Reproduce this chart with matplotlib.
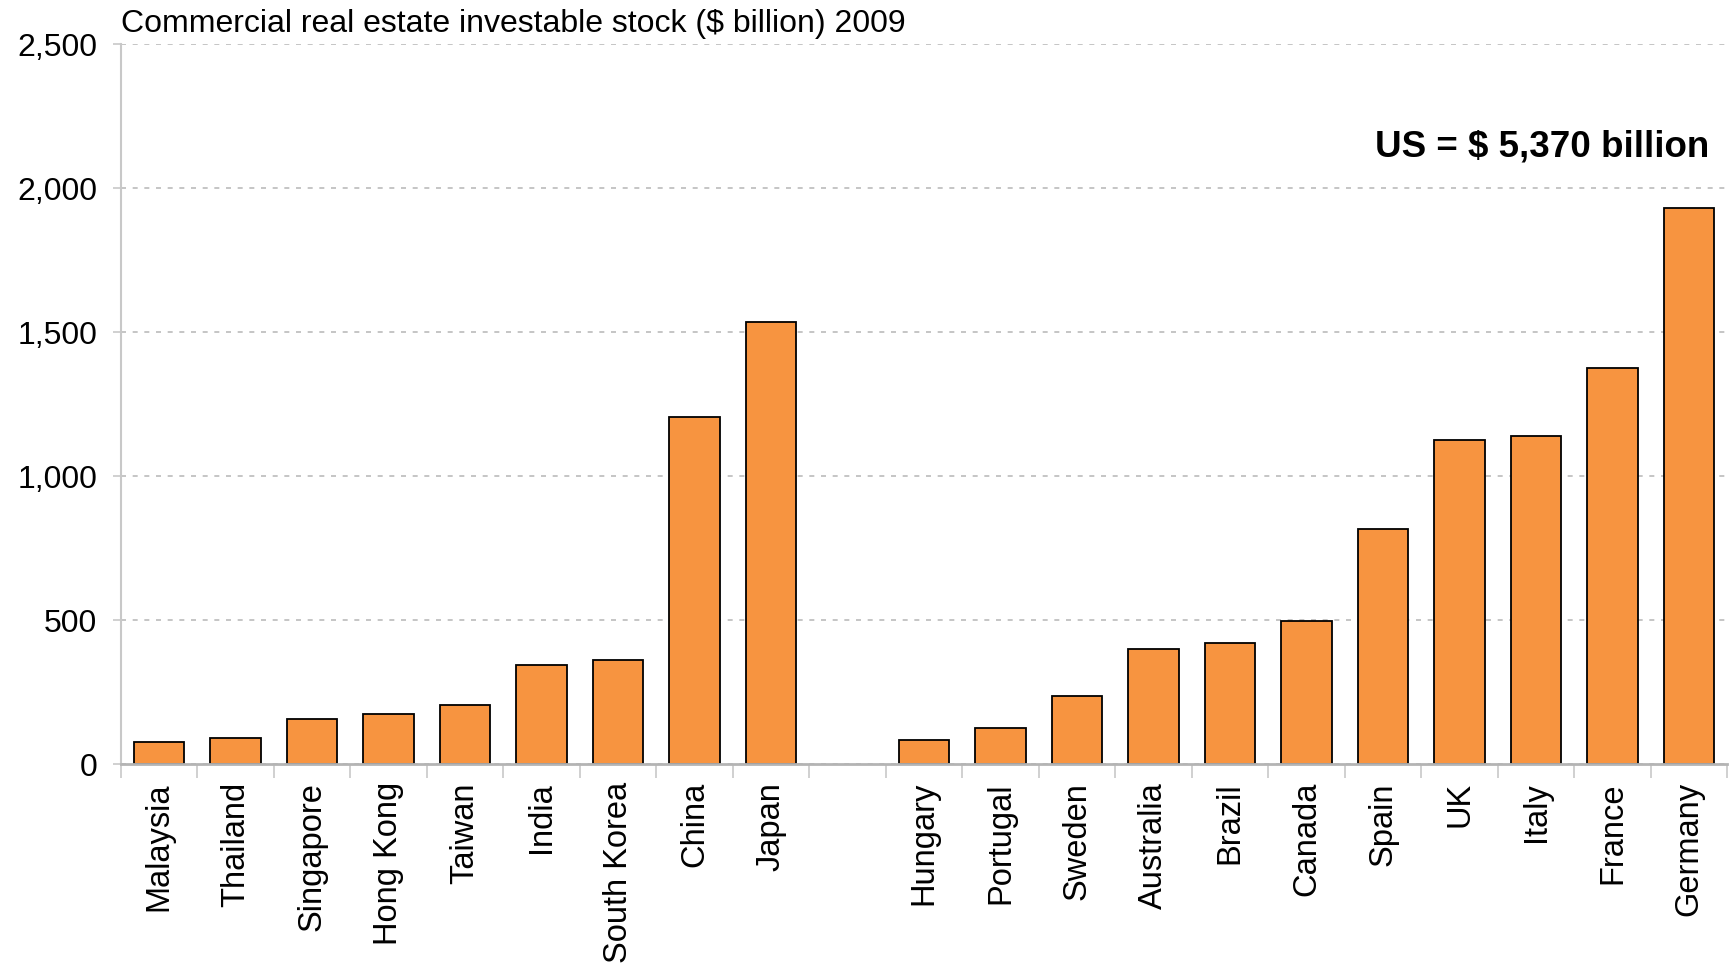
import matplotlib
matplotlib.use("Agg")
import matplotlib.pyplot as plt
import numpy as np

plt.rcParams['font.family'] = ['Liberation Sans', 'DejaVu Sans']

asia = ["Malaysia", "Thailand", "Singapore", "Hong Kong", "Taiwan", "India",
        "South Korea", "China", "Japan"]
asia_vals = [75, 90, 155, 175, 205, 345, 360, 1205, 1535]
other = ["Hungary", "Portugal", "Sweden", "Australia", "Brazil", "Canada",
         "Spain", "UK", "Italy", "France", "Germany"]
other_vals = [85, 125, 235, 400, 420, 495, 815, 1125, 1140, 1375, 1930]
yticks = [0, 500, 1000, 1500, 2000, 2500]
title = "Commercial real estate investable stock ($ billion) 2009"
note = "US = $ 5,370 billion"

labels = asia + [""] + other
pos_asia = np.arange(len(asia))
pos_other = np.arange(len(other)) + len(asia) + 1

fig = plt.figure(figsize=(17.31, 9.68), dpi=100)
ax = fig.add_axes([0.0699, 0.2107, 0.928, 0.7438])

color = "#F79440"
ax.bar(pos_asia, asia_vals, width=0.66, color=color, edgecolor="black", linewidth=1.3, zorder=3)
ax.bar(pos_other, other_vals, width=0.66, color=color, edgecolor="black", linewidth=1.3, zorder=3)

ax.set_xlim(-0.5, len(labels) - 0.5)
ax.set_ylim(0, 2500)
ax.set_yticks(yticks)
ax.set_yticklabels([f"{v:,}" for v in yticks], fontsize=23)

ax.set_xticks(np.arange(len(labels)))
ax.set_xticklabels(labels, rotation=90, fontsize=23.5)
ax.set_xticks(np.arange(len(labels) + 1) - 0.5, minor=True)
ax.tick_params(axis='x', which='major', length=0, pad=13)
ax.tick_params(axis='x', which='minor', length=10, color="#C8C8C8", width=1.2)
ax.tick_params(axis='y', length=6, color="#C8C8C8", width=1.2, pad=11)

ax.grid(axis='y', color="#BBBBBB", linestyle=(0, (3, 4)), linewidth=1.2, zorder=0)
for s in ["top", "right"]:
    ax.spines[s].set_visible(False)
ax.spines["left"].set_color("#C8C8C8")
ax.spines["left"].set_linewidth(1.5)
ax.spines["bottom"].set_color("#B4B4B4")
ax.spines["bottom"].set_linewidth(2)
ax.spines["bottom"].set_zorder(4)

fig.text(0.0699, 0.975, title, fontsize=23, ha="left", va="center")
ax.text(0.9885, 0.857, note, transform=ax.transAxes, fontsize=26.5, fontweight="bold",
        ha="right", va="center")

fig.savefig("out.png", dpi=100)
